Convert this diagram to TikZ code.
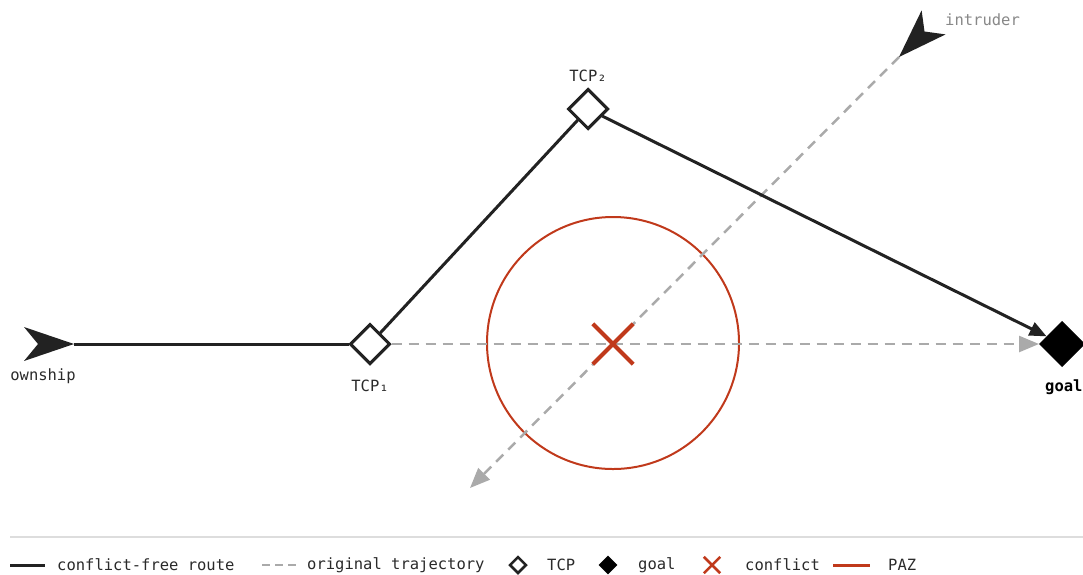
\documentclass[tikz,border=0pt]{standalone}
\usepackage{fontspec}
\setmonofont{DejaVu Sans Mono}
\usetikzlibrary{shapes.geometric,arrows.meta}
\definecolor{ink}{HTML}{222222}
\definecolor{txt}{HTML}{2A2A2A}
\definecolor{pazred}{HTML}{C0391B}
\definecolor{origgray}{HTML}{AAAAAA}
\definecolor{lblgray}{HTML}{888888}
\definecolor{rulegray}{HTML}{DDDDDD}
\tikzset{
  route/.style={draw=ink, line width=3pt},
  orig/.style={draw=origgray, line width=2.5pt, dash pattern=on 10pt off 7pt},
  tcpbox/.style={diamond, draw=ink, fill=white, line width=3pt, minimum size=40pt, inner sep=0pt, aspect=1},
  goalbox/.style={diamond, draw=black, fill=black, line width=1pt, minimum size=45pt, inner sep=0pt, aspect=1},
  lbl/.style={font=\ttfamily\fontsize{15.5}{18}\selectfont, text=txt, inner sep=0pt},
  legtxt/.style={lbl, anchor=west},
  dartfill/.style={fill=ink},
  xmark/.style={draw=pazred, line width=4pt},
}
\begin{document}
\begin{tikzpicture}[x=1pt,y=-1pt]
\useasboundingbox (0,0) rectangle (1083,574);

% PAZ circle
\node[circle, draw=pazred, line width=2pt, minimum size=252pt, inner sep=0pt] (paz) at (613,343) {};

% coordinates
\coordinate (own) at (74,344);
\coordinate (intr) at (899,57);
\coordinate (iend) at (470,488);

% nodes
\node[goalbox] (goal) at (1062,344) {};
\node[tcpbox] (tcp1) at (370,344) {};
\node[tcpbox] (tcp2) at (588,109) {};

% original trajectories
\draw[orig, -{Triangle[length=20pt,width=16pt]}] (tcp1) -- (goal.west);
\draw[orig, -{Triangle[length=20pt,width=16pt]}] (intr) -- (iend);

% conflict-free route
\draw[route] (own) -- (tcp1);
\draw[route] (tcp1) -- (tcp2);
\draw[route, -{Triangle[length=17pt,width=14pt]}] (tcp2) -- (goal);

% redraw diamonds on top of line ends
\node[tcpbox] at (370,344) {};
\node[tcpbox] at (588,109) {};

% conflict X
\node[inner sep=0pt, minimum size=40pt] (conf) at (613,344) {};
\draw[xmark] (conf.north west) -- (conf.south east);
\draw[xmark] (conf.south west) -- (conf.north east);

% ownship dart
\fill[dartfill] (own) -- ++(-50,-17) -- ++(14,17) -- ++(-14,17) -- cycle;
% intruder dart
\fill[dartfill] (intr) -- (945.6,34.4) -- (924.5,31.5) -- (921.6,10.4) -- cycle;

% labels
\node[lbl] (ownl) at (43,376) {ownship};
\node[lbl] (tcp1l) at (370,386) {TCP\char"2081};
\node[lbl] (tcp2l) at (588,76) {TCP\char"2082};
\node[lbl, font=\ttfamily\bfseries\fontsize{15.5}{18}\selectfont, text=black, anchor=west] (goall) at (1045,387) {goal};
\node[lbl, text=lblgray, anchor=west] (intrl) at (945,20) {intruder};

% legend
\draw[rulegray, line width=1.5pt] (10,537) -- (1083,537);
\coordinate (l1a) at (10,565); \coordinate (l1b) at (45,565);
\draw[route] (l1a) -- (l1b);
\node[legtxt] (t1) at (57,565) {conflict-free route};
\coordinate (l2a) at (262,565); \coordinate (l2b) at (296,565);
\draw[orig, dash pattern=on 8pt off 5pt] (l2a) -- (l2b);
\node[legtxt] (t2) at (307,565) {original trajectory};
\node[diamond, draw=ink, fill=white, line width=2.5pt, minimum size=17pt, inner sep=0pt, aspect=1] (d1) at (518,565) {};
\node[legtxt] (t3) at (547,565) {TCP};
\node[diamond, fill=black, minimum size=19pt, inner sep=0pt, aspect=1] (d2) at (608,565) {};
\node[legtxt] (t4) at (638,565) {goal};
\node[inner sep=0pt, minimum size=16pt] (cx) at (712,565) {};
\draw[draw=pazred, line width=2.5pt] (cx.north west) -- (cx.south east);
\draw[draw=pazred, line width=2.5pt] (cx.south west) -- (cx.north east);
\node[legtxt] (t5) at (745,565) {conflict};
\coordinate (l3a) at (833,565); \coordinate (l3b) at (870,565);
\draw[draw=pazred, line width=3pt] (l3a) -- (l3b);
\node[legtxt] (t6) at (888,565) {PAZ};
\end{tikzpicture}
\end{document}
